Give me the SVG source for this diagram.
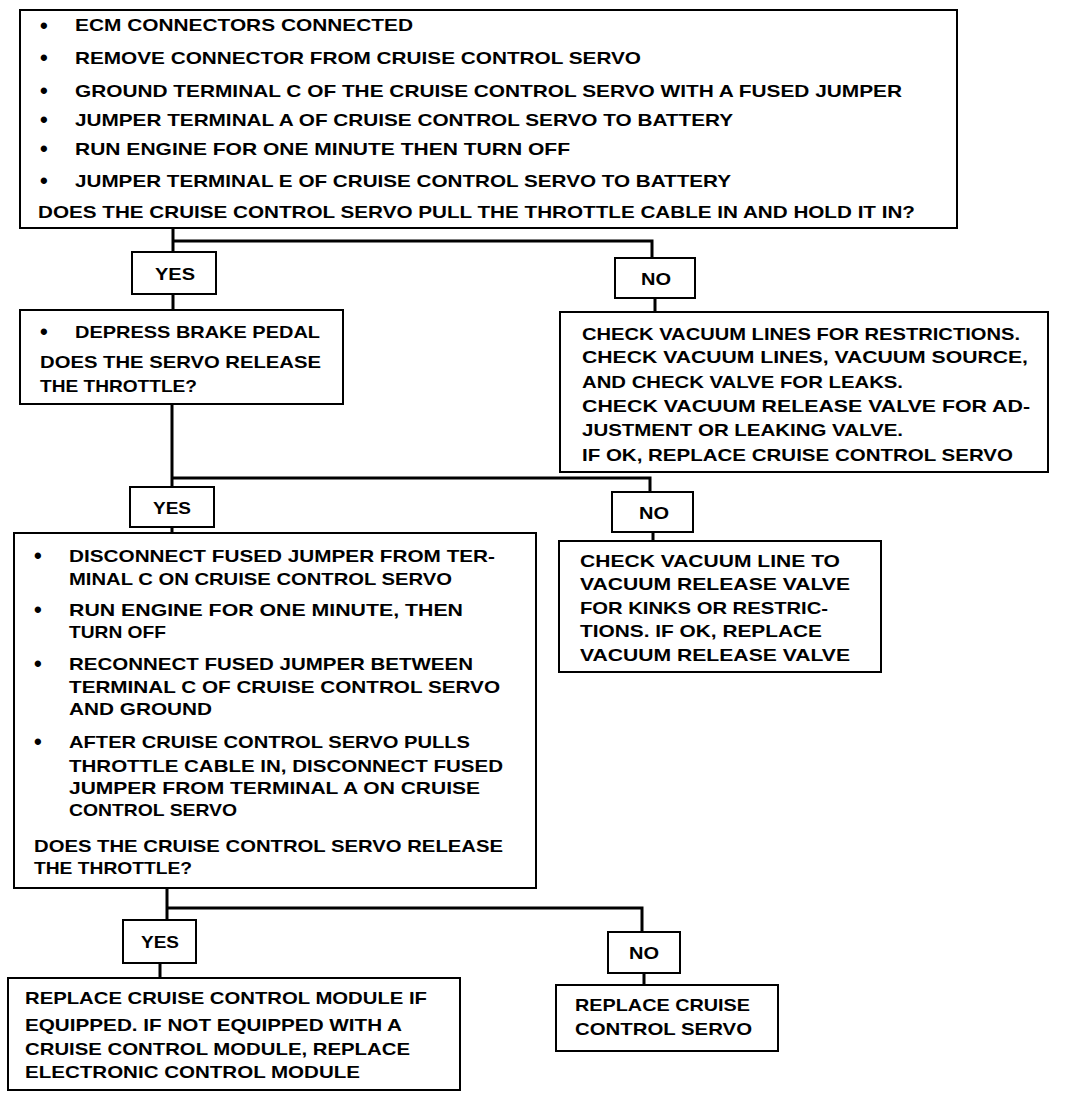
<svg xmlns="http://www.w3.org/2000/svg" width="1072" height="1094" viewBox="0 0 1072 1094">
<style>
.box{fill:#fff;stroke:#000;stroke-width:2}
.con{fill:none;stroke:#000;stroke-width:3}
text{font-family:"Liberation Sans",Arial,sans-serif;font-weight:bold;font-size:17px;fill:#000}
.b{font-size:22px}
.lbl{text-anchor:middle;font-size:17px}
</style>
<rect width="1072" height="1094" fill="#fff"/>
<g id="connectors">
<path class="con" d="M173,228 V252 M173,241 H652 V258 M173,294 V310 M655,298 V312"/>
<path class="con" d="M172,404 V487 M172,478 H650 V492 M172,527 V533 M653,532 V541"/>
<path class="con" d="M167,888 V920 M167,908 H642 V932 M160,963 V978 M644,973 V985"/>
</g>
<g id="start">
<rect class="box" x="20" y="10" width="937" height="218"/>
<text x="40" y="33" class="b">•</text><text x="75" y="31" textLength="338" lengthAdjust="spacingAndGlyphs">ECM CONNECTORS CONNECTED</text>
<text x="40" y="65" class="b">•</text><text x="75" y="64" textLength="566" lengthAdjust="spacingAndGlyphs">REMOVE CONNECTOR FROM CRUISE CONTROL SERVO</text>
<text x="40" y="98" class="b">•</text><text x="75" y="97" textLength="827" lengthAdjust="spacingAndGlyphs">GROUND TERMINAL C OF THE CRUISE CONTROL SERVO WITH A FUSED JUMPER</text>
<text x="40" y="127" class="b">•</text><text x="75" y="126" textLength="658" lengthAdjust="spacingAndGlyphs">JUMPER TERMINAL A OF CRUISE CONTROL SERVO TO BATTERY</text>
<text x="40" y="156" class="b">•</text><text x="75" y="155" textLength="495" lengthAdjust="spacingAndGlyphs">RUN ENGINE FOR ONE MINUTE THEN TURN OFF</text>
<text x="40" y="188" class="b">•</text><text x="75" y="187" textLength="656" lengthAdjust="spacingAndGlyphs">JUMPER TERMINAL E OF CRUISE CONTROL SERVO TO BATTERY</text>
<text x="38" y="218" textLength="877" lengthAdjust="spacingAndGlyphs">DOES THE CRUISE CONTROL SERVO PULL THE THROTTLE CABLE IN AND HOLD IT IN?</text>
</g>
<g id="yes1"><rect class="box" x="132" y="252" width="84" height="42"/><text class="lbl" x="175" y="280" textLength="40" lengthAdjust="spacingAndGlyphs">YES</text></g>
<g id="no1"><rect class="box" x="615" y="258" width="80" height="40"/><text class="lbl" x="656" y="285" textLength="30" lengthAdjust="spacingAndGlyphs">NO</text></g>
<g id="brake">
<rect class="box" x="20" y="310" width="323" height="94"/>
<text x="40" y="339" class="b">•</text><text x="75" y="338" textLength="245" lengthAdjust="spacingAndGlyphs">DEPRESS BRAKE PEDAL</text>
<text x="40" y="368" textLength="281" lengthAdjust="spacingAndGlyphs">DOES THE SERVO RELEASE</text>
<text x="40" y="392" textLength="157" lengthAdjust="spacingAndGlyphs">THE THROTTLE?</text>
</g>
<g id="vacuum">
<rect class="box" x="560" y="312" width="488" height="160"/>
<text x="582" y="340" textLength="438" lengthAdjust="spacingAndGlyphs">CHECK VACUUM LINES FOR RESTRICTIONS.</text>
<text x="582" y="363" textLength="446" lengthAdjust="spacingAndGlyphs">CHECK VACUUM LINES, VACUUM SOURCE,</text>
<text x="582" y="388" textLength="321" lengthAdjust="spacingAndGlyphs">AND CHECK VALVE FOR LEAKS.</text>
<text x="582" y="412" textLength="448" lengthAdjust="spacingAndGlyphs">CHECK VACUUM RELEASE VALVE FOR AD-</text>
<text x="582" y="436" textLength="321" lengthAdjust="spacingAndGlyphs">JUSTMENT OR LEAKING VALVE.</text>
<text x="582" y="461" textLength="431" lengthAdjust="spacingAndGlyphs">IF OK, REPLACE CRUISE CONTROL SERVO</text>
</g>
<g id="yes2"><rect class="box" x="130" y="487" width="84" height="40"/><text class="lbl" x="172" y="514" textLength="38" lengthAdjust="spacingAndGlyphs">YES</text></g>
<g id="no2"><rect class="box" x="612" y="492" width="81" height="40"/><text class="lbl" x="654" y="519" textLength="30" lengthAdjust="spacingAndGlyphs">NO</text></g>
<g id="disconnect">
<rect class="box" x="14" y="533" width="522" height="355"/>
<text x="34" y="563" class="b">•</text><text x="69" y="562" textLength="426" lengthAdjust="spacingAndGlyphs">DISCONNECT FUSED JUMPER FROM TER-</text>
<text x="69" y="585" textLength="383" lengthAdjust="spacingAndGlyphs">MINAL C ON CRUISE CONTROL SERVO</text>
<text x="34" y="617" class="b">•</text><text x="69" y="616" textLength="394" lengthAdjust="spacingAndGlyphs">RUN ENGINE FOR ONE MINUTE, THEN</text>
<text x="69" y="638" textLength="97" lengthAdjust="spacingAndGlyphs">TURN OFF</text>
<text x="34" y="671" class="b">•</text><text x="69" y="670" textLength="404" lengthAdjust="spacingAndGlyphs">RECONNECT FUSED JUMPER BETWEEN</text>
<text x="69" y="693" textLength="431" lengthAdjust="spacingAndGlyphs">TERMINAL C OF CRUISE CONTROL SERVO</text>
<text x="69" y="715" textLength="143" lengthAdjust="spacingAndGlyphs">AND GROUND</text>
<text x="34" y="749" class="b">•</text><text x="69" y="748" textLength="401" lengthAdjust="spacingAndGlyphs">AFTER CRUISE CONTROL SERVO PULLS</text>
<text x="69" y="772" textLength="434" lengthAdjust="spacingAndGlyphs">THROTTLE CABLE IN, DISCONNECT FUSED</text>
<text x="69" y="794" textLength="411" lengthAdjust="spacingAndGlyphs">JUMPER FROM TERMINAL A ON CRUISE</text>
<text x="69" y="816" textLength="168" lengthAdjust="spacingAndGlyphs">CONTROL SERVO</text>
<text x="34" y="852" textLength="469" lengthAdjust="spacingAndGlyphs">DOES THE CRUISE CONTROL SERVO RELEASE</text>
<text x="34" y="874" textLength="158" lengthAdjust="spacingAndGlyphs">THE THROTTLE?</text>
</g>
<g id="vacline">
<rect class="box" x="559" y="541" width="322" height="131"/>
<text x="580" y="567" textLength="260" lengthAdjust="spacingAndGlyphs">CHECK VACUUM LINE TO</text>
<text x="580" y="590" textLength="270" lengthAdjust="spacingAndGlyphs">VACUUM RELEASE VALVE</text>
<text x="580" y="614" textLength="248" lengthAdjust="spacingAndGlyphs">FOR KINKS OR RESTRIC-</text>
<text x="580" y="637" textLength="242" lengthAdjust="spacingAndGlyphs">TIONS. IF OK, REPLACE</text>
<text x="580" y="661" textLength="270" lengthAdjust="spacingAndGlyphs">VACUUM RELEASE VALVE</text>
</g>
<g id="yes3"><rect class="box" x="123" y="920" width="73" height="43"/><text class="lbl" x="160" y="948" textLength="38" lengthAdjust="spacingAndGlyphs">YES</text></g>
<g id="no3"><rect class="box" x="608" y="932" width="72" height="41"/><text class="lbl" x="644" y="959" textLength="30" lengthAdjust="spacingAndGlyphs">NO</text></g>
<g id="module">
<rect class="box" x="8" y="978" width="452" height="112"/>
<text x="25" y="1004" textLength="402" lengthAdjust="spacingAndGlyphs">REPLACE CRUISE CONTROL MODULE IF</text>
<text x="25" y="1031" textLength="377" lengthAdjust="spacingAndGlyphs">EQUIPPED. IF NOT EQUIPPED WITH A</text>
<text x="25" y="1055" textLength="385" lengthAdjust="spacingAndGlyphs">CRUISE CONTROL MODULE, REPLACE</text>
<text x="25" y="1078" textLength="335" lengthAdjust="spacingAndGlyphs">ELECTRONIC CONTROL MODULE</text>
</g>
<g id="servo">
<rect class="box" x="556" y="985" width="222" height="66"/>
<text x="575" y="1011" textLength="175" lengthAdjust="spacingAndGlyphs">REPLACE CRUISE</text>
<text x="575" y="1035" textLength="177" lengthAdjust="spacingAndGlyphs">CONTROL SERVO</text>
</g>
</svg>
